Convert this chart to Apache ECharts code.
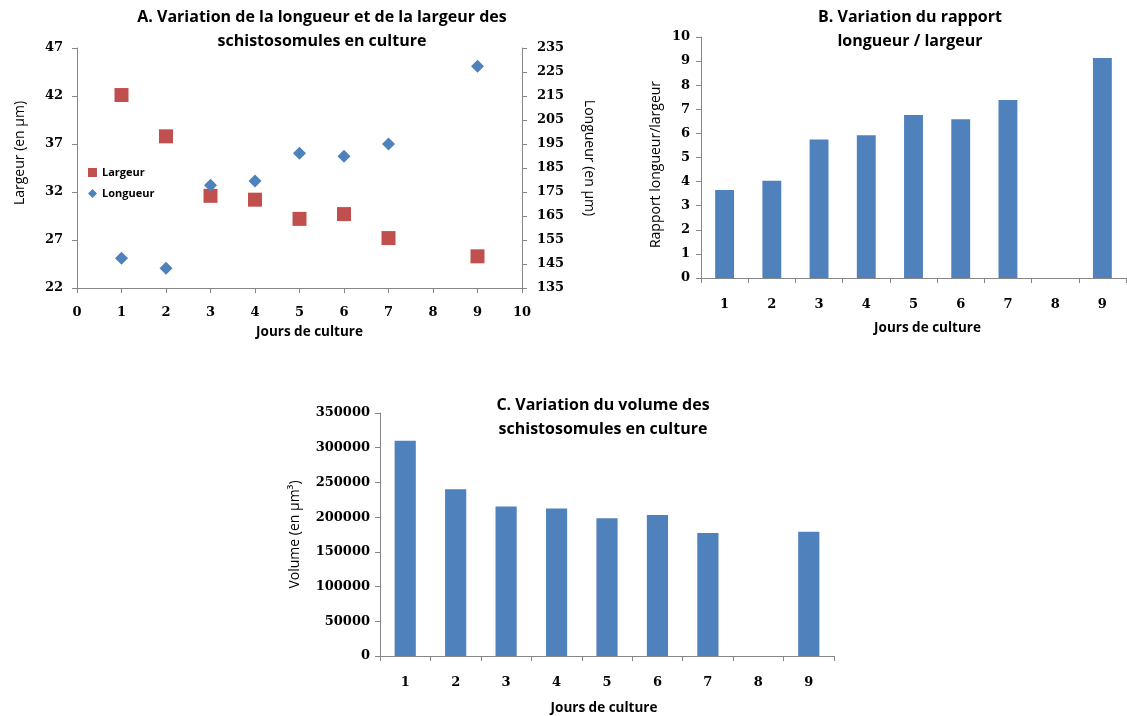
<!DOCTYPE html>
<html><head><meta charset="utf-8">
<script src="https://cdn.jsdelivr.net/npm/echarts@6/dist/echarts.min.js"></script>
<style>html,body{margin:0;padding:0;background:#fff}#c{width:1127px;height:716px}</style>
</head><body><div id="c"></div><script>
// Chart A data
const daysA = [1, 2, 3, 4, 5, 6, 7, 9];
const largeur = [42.1, 37.8, 31.6, 31.2, 29.2, 29.7, 27.2, 25.3];
const longueur = [147.4, 143.2, 177.8, 179.6, 191.1, 189.9, 195.0, 227.4];
const largeurTicks = [22, 27, 32, 37, 42, 47];
const longueurTicks = [135, 145, 155, 165, 175, 185, 195, 205, 215, 225, 235];
// Charts B & C data
const categories = ['1', '2', '3', '4', '5', '6', '7', '8', '9'];
const ratio = [3.65, 4.04, 5.75, 5.92, 6.76, 6.59, 7.39, null, 9.13];
const volume = [310000, 240000, 215500, 212500, 198500, 203000, 177000, null, 179000];

const AX = '#868686';
const TF = 'Open Sans';
const tickFont = { fontFamily: 'DejaVu Serif', fontWeight: 'bold', fontSize: 13, color: '#000' };
const xNameFont = { fontFamily: TF, fontWeight: 'bold', fontSize: 13.5, color: '#000' };
const yNameFont = { fontFamily: TF, fontWeight: 'normal', fontSize: 14, color: '#000' };
const axLine = { show: true, lineStyle: { color: AX, width: 1 } };
const axTick = { show: true, length: 5, lineStyle: { color: AX } };
const BLUE = '#4F81BD', RED = '#C0504D';

const chart = echarts.init(document.getElementById('c'), null, { renderer: 'canvas' });

function titleText(txt, x, y) {
  return { type: 'text', x: x, y: y, style: { text: txt, align: 'center', verticalAlign: 'top',
    font: 'bold 16px "Open Sans"', fill: '#000', lineHeight: 24 } };
}

chart.setOption({
  animation: false,
  backgroundColor: '#fff',
  graphic: [
    titleText('A. Variation de la longueur et de la largeur des\nschistosomules en culture', 322, 5),
    titleText('B. Variation du rapport\nlongueur / largeur', 910, 5),
    titleText('C. Variation du volume des\nschistosomules en culture', 603, 393)
  ],
  legend: {
    data: ['Largeur', 'Longueur'], orient: 'vertical', left: 83, top: 162,
    itemWidth: 9, itemHeight: 9, itemGap: 10,
    textStyle: { fontFamily: TF, fontWeight: 'bold', fontSize: 11, color: '#000' }
  },
  grid: [
    { left: 77, top: 48, width: 445, height: 240 },
    { left: 701, top: 37, width: 425, height: 241 },
    { left: 380, top: 413, width: 454, height: 243 }
  ],
  xAxis: [
    { type: 'value', gridIndex: 0, min: 0, max: 10, interval: 1,
      name: 'Jours de culture', nameLocation: 'middle', nameGap: 37, nameTextStyle: Object.assign({ padding: [0, 0, 0, 20] }, xNameFont),
      axisLine: axLine, axisTick: axTick, splitLine: { show: false },
      axisLabel: Object.assign({ margin: 18 }, tickFont) },
    { type: 'category', gridIndex: 1, data: categories, boundaryGap: true,
      name: 'Jours de culture', nameLocation: 'middle', nameGap: 43, nameTextStyle: Object.assign({ padding: [0, 0, 0, 28] }, xNameFont),
      axisLine: axLine, axisTick: axTick, splitLine: { show: false },
      axisLabel: Object.assign({ margin: 20 }, tickFont) },
    { type: 'category', gridIndex: 2, data: categories, boundaryGap: true,
      name: 'Jours de culture', nameLocation: 'middle', nameGap: 45, nameTextStyle: Object.assign({ padding: [0, 6, 0, 0] }, xNameFont),
      axisLine: axLine, axisTick: axTick, splitLine: { show: false },
      axisLabel: Object.assign({ margin: 20 }, tickFont) }
  ],
  yAxis: [
    { type: 'value', gridIndex: 0, min: 22, max: 47, position: 'left',
      name: 'Largeur (en µm)', nameLocation: 'middle', nameGap: 50, nameTextStyle: Object.assign({ padding: [0, 0, 0, 30] }, yNameFont),
      axisLine: axLine, axisTick: Object.assign({ customValues: largeurTicks }, axTick), splitLine: { show: false },
      axisLabel: Object.assign({ margin: 14, customValues: largeurTicks }, tickFont) },
    { type: 'value', gridIndex: 0, min: 135, max: 235, position: 'right',
      name: 'Longueur (en µm)', nameLocation: 'middle', nameGap: 60, nameRotate: -90, nameTextStyle: Object.assign({ padding: [0, 20, 0, 0] }, yNameFont),
      axisLine: axLine, axisTick: Object.assign({ customValues: longueurTicks }, axTick), splitLine: { show: false },
      axisLabel: Object.assign({ margin: 15, customValues: longueurTicks }, tickFont) },
    { type: 'value', gridIndex: 1, min: 0, max: 10, interval: 1,
      name: 'Rapport longueur/largeur', nameLocation: 'middle', nameGap: 38, nameTextStyle: Object.assign({ padding: [0, 14, 0, 0] }, yNameFont),
      axisLine: axLine, axisTick: axTick, splitLine: { show: false },
      axisLabel: Object.assign({ margin: 11 }, tickFont) },
    { type: 'value', gridIndex: 2, min: 0, max: 350000, interval: 50000,
      name: 'Volume (en µm³)', nameLocation: 'middle', nameGap: 78, nameTextStyle: yNameFont,
      axisLine: axLine, axisTick: axTick, splitLine: { show: false },
      axisLabel: Object.assign({ margin: 10, formatter: v => String(v) }, tickFont) }
  ],
  series: [
    { name: 'Largeur', type: 'scatter', xAxisIndex: 0, yAxisIndex: 0, symbol: 'rect', symbolSize: 14,
      itemStyle: { color: RED, opacity: 1 }, data: daysA.map((d, i) => [d, largeur[i]]) },
    { name: 'Longueur', type: 'scatter', xAxisIndex: 0, yAxisIndex: 1, symbol: 'diamond', symbolSize: 13,
      itemStyle: { color: BLUE, opacity: 1 }, data: daysA.map((d, i) => [d, longueur[i]]) },
    { name: 'Rapport', type: 'bar', xAxisIndex: 1, yAxisIndex: 2, barWidth: '40%',
      itemStyle: { color: BLUE }, data: ratio },
    { name: 'Volume', type: 'bar', xAxisIndex: 2, yAxisIndex: 3, barWidth: '42%',
      itemStyle: { color: BLUE }, data: volume }
  ]
});
</script></body></html>
